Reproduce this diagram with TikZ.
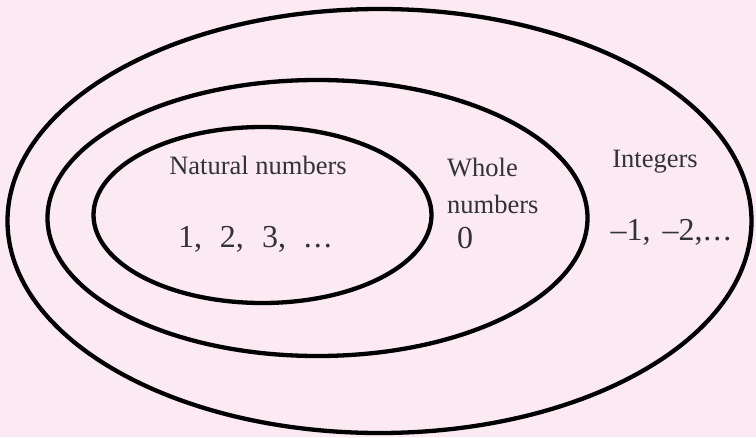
\documentclass[tikz,border=0pt]{standalone}
\usepackage{fontspec}
\setmainfont{Liberation Serif}
\definecolor{bgpink}{HTML}{FCEAF2}
\definecolor{txtgray}{HTML}{333333}
\begin{document}
\begin{tikzpicture}[x=1pt,y=-1pt,
  ring/.style={line width=4.3pt,draw=black},
  lbl/.style={text=txtgray,font=\fontsize{26.5}{30}\selectfont,anchor=base,inner sep=0pt},
  num/.style={text=txtgray,font=\fontsize{32}{36}\selectfont,anchor=base,inner sep=0pt}]
\fill[bgpink] (0,0) rectangle (756,437);
\useasboundingbox (0,0) rectangle (756,437);
\draw[ring] (379.5,221) ellipse [x radius=372, y radius=212];
\draw[ring] (317.5,218) ellipse [x radius=270, y radius=138];
\draw[ring] (262.5,215) ellipse [x radius=169, y radius=88];
\node[lbl] (nat) at (258,174) {Natural numbers};
\node[num] (natv) at (255,247) {1,\hspace{10pt} 2,\hspace{10pt} 3,\hspace{10pt} .\kern2pt.\kern2pt.};
\node[lbl,anchor=base west] (whole) at (447,176) {Whole};
\node[lbl,anchor=base west] (whole2) at (447,213) {numbers};
\node[num] (zero) at (465,248) {0};
\node[lbl] (int) at (655,167) {Integers};
\node[num] (intv) at (671,240) {–1,\hspace{4pt} –2,\kern1pt.\kern2pt.\kern2pt.};
\end{tikzpicture}
\end{document}
